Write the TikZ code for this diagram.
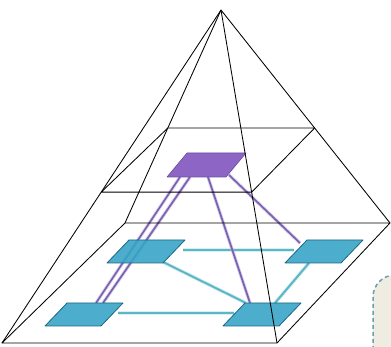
\documentclass[tikz,border=0pt]{standalone}
\usetikzlibrary{calc}
\definecolor{bluefill}{HTML}{38A4C6}
\definecolor{blueedge}{HTML}{1D6784}
\definecolor{purpfill}{HTML}{8D66C5}
\definecolor{purpedge}{HTML}{6B4AA2}
\definecolor{teal}{HTML}{5BB7C6}
\definecolor{purpline}{HTML}{7D62B3}
\definecolor{beige}{HTML}{EFECE2}
\definecolor{dashcol}{HTML}{6A9FAE}
\tikzset{
  edge/.style={draw=black, line width=0.85pt, line join=round},
  tealline/.style={draw=teal, line width=2pt},
  tealglow/.style={draw=teal!45, line width=3.8pt, opacity=0.5},
  purpleline/.style={draw=purpline, line width=1.8pt},
  purpleglow/.style={draw=purpline!45, line width=3.6pt, opacity=0.5},
  bluepad/.style={fill=bluefill, draw=blueedge, line width=0.8pt, line join=round, fill opacity=0.9},
  purplepad/.style={fill=purpfill, draw=purpedge, line width=0.6pt, line join=round},
  callout/.style={fill=beige, draw=dashcol, line width=1.5pt, dash pattern=on 4pt off 3pt, rounded corners=22pt}
}
\newcommand{\mypara}[3]{% style, bottom-left x, bottom-left y
  \path[#1] (#2,#3) -- ++(56,0) -- ++(22,-23) -- ++(-56,0) -- cycle;}
\begin{document}
\begin{tikzpicture}[x=1pt,y=-1pt]
\useasboundingbox (0,0) rectangle (391,347);
\begin{scope}
\clip (0,0) rectangle (391,347);
% callout box (partially visible)
\path[callout] (373,420) -- (373,275) -- (460,275);
% pyramid corners
\coordinate (A) at (221,10);
\coordinate (FL) at (2,343);
\coordinate (FR) at (277,343);
\coordinate (BR) at (390,223);
\coordinate (BL) at (125,223);
\coordinate (uBL) at ($(A)!0.554!(BL)$);
\coordinate (uBR) at ($(A)!0.554!(BR)$);
\coordinate (uFL) at ($(A)!0.547!(FL)$);
\coordinate (uFR) at ($(A)!0.547!(FR)$);
% connector end points
\coordinate (t1a) at (183,250); \coordinate (t1b) at (294,250);
\coordinate (t2a) at (163,262); \coordinate (t2b) at (246,303);
\coordinate (t3a) at (309,263); \coordinate (t3b) at (275,303);
\coordinate (t4a) at (118,313); \coordinate (t4b) at (234,313);
\coordinate (p1a) at (180,177); \coordinate (p1b) at (96,303);
\coordinate (p2a) at (190,177); \coordinate (p2b) at (103,303);
\coordinate (p3a) at (208,177); \coordinate (p3b) at (250,303);
\coordinate (p4a) at (229,175); \coordinate (p4b) at (300,243);
% teal connectors
\foreach \s/\e in {t1a/t1b,t2a/t2b,t3a/t3b,t4a/t4b}{
  \draw[tealglow] (\s) -- (\e);
  \draw[tealline] (\s) -- (\e);}
% purple connectors
\foreach \s/\e in {p1a/p1b,p2a/p2b,p3a/p3b,p4a/p4b}{
  \draw[purpleglow] (\s) -- (\e);
  \draw[purpleline] (\s) -- (\e);}
% pads
\mypara{bluepad}{107}{263}
\mypara{bluepad}{285}{263}
\mypara{bluepad}{45}{326}
\mypara{bluepad}{223}{326}
\path[purplepad] (167,177) -- (226,177) -- (246,153) -- (187,153) -- cycle;
% pyramid edges
\draw[edge] (FL) -- (FR) -- (BR) -- (BL) -- cycle;
\draw[edge] (uFL) -- (uFR) -- (uBR) -- (uBL) -- cycle;
\draw[edge] (A) -- (FL);
\draw[edge] (A) -- (FR);
\draw[edge] (A) -- (BR);
\draw[edge] (A) -- (BL);
\end{scope}
\end{tikzpicture}
\end{document}
